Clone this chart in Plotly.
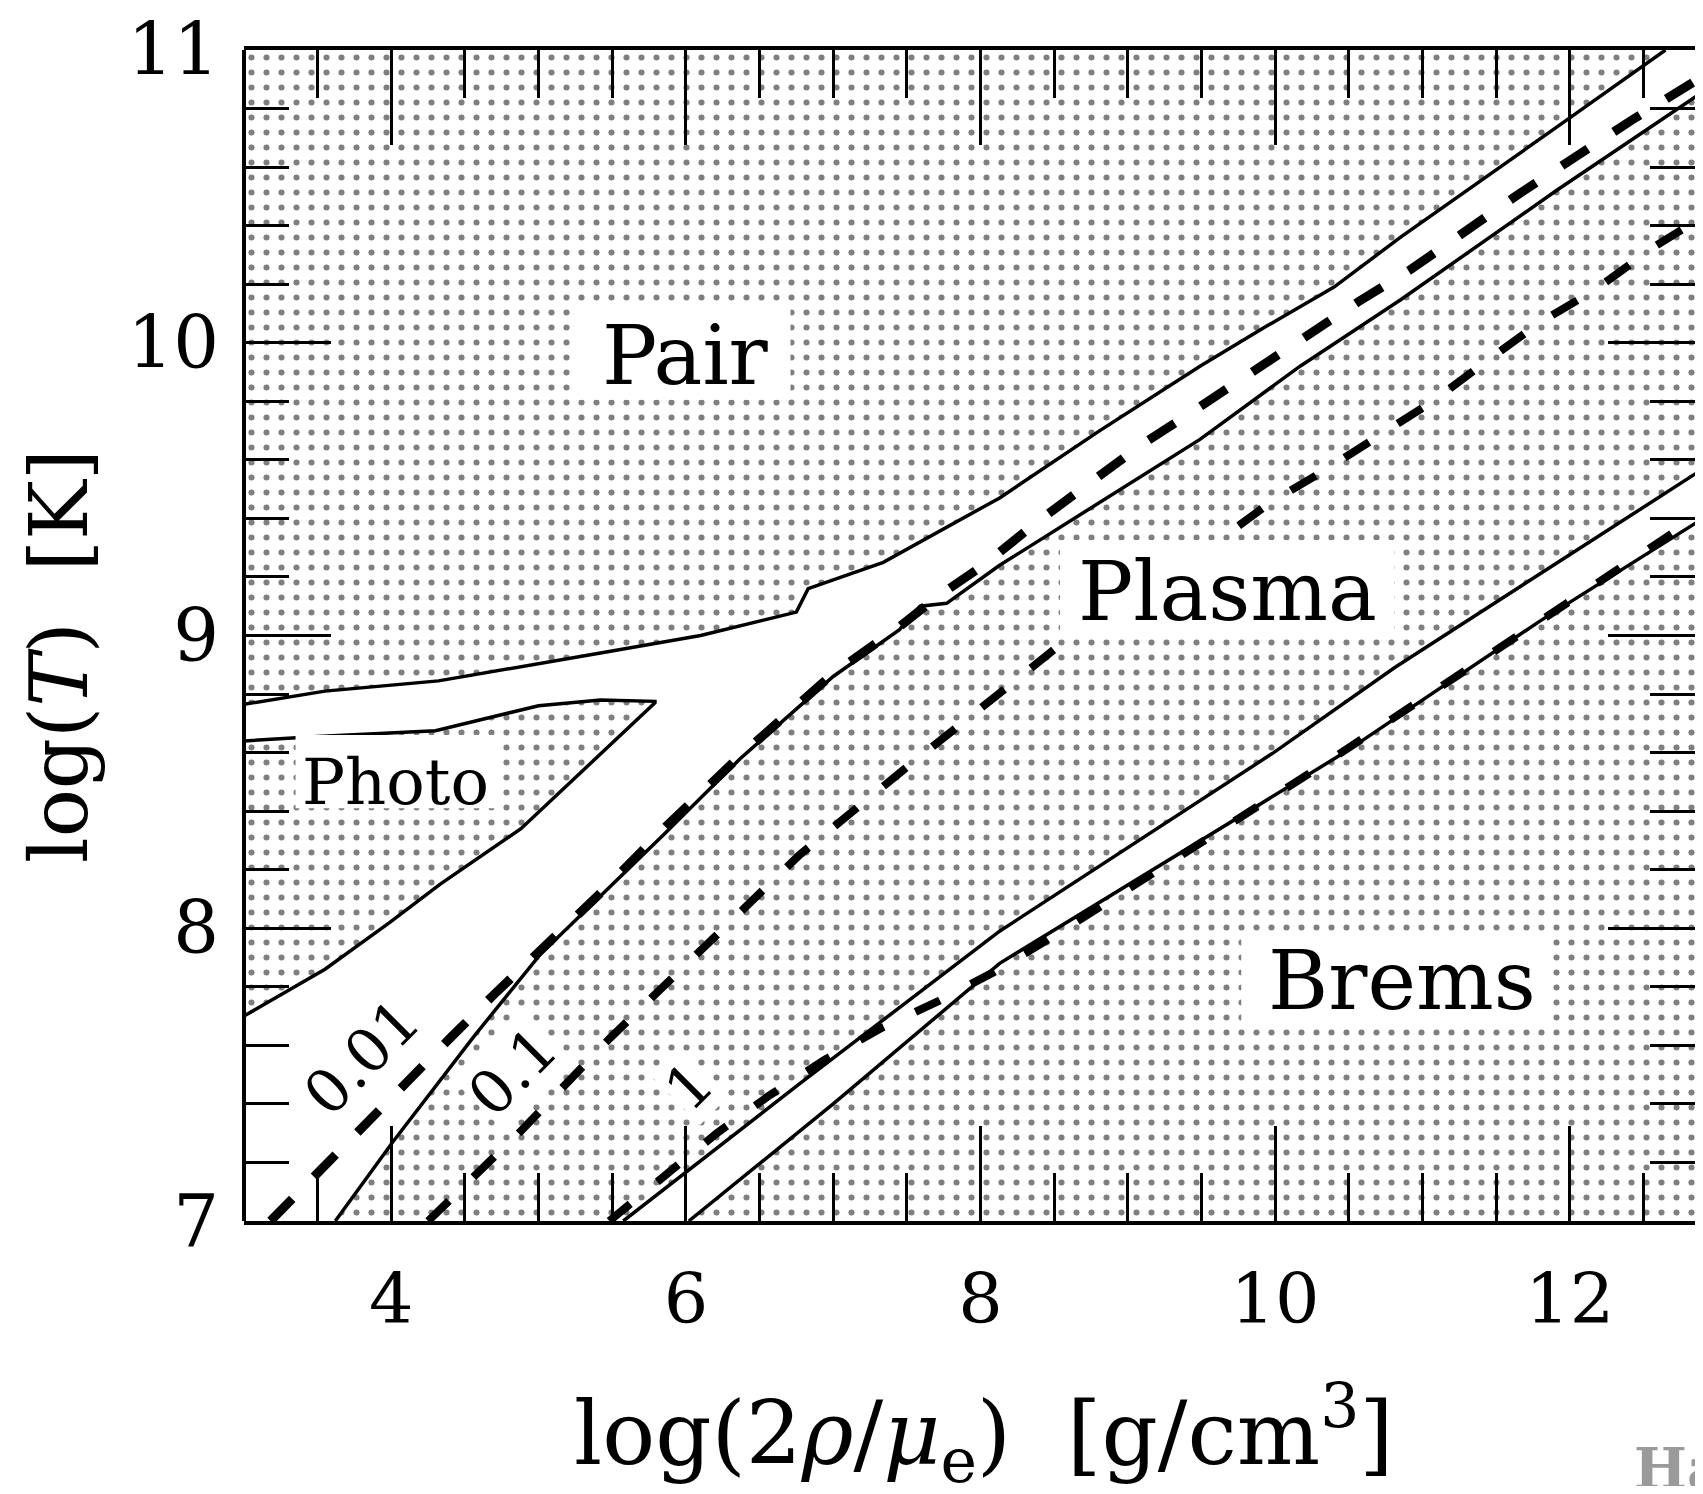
import plotly.graph_objects as go

# ---------------- data ----------------
X_MIN, X_EDGE = 3.0, 13.0
Y_MIN, Y_MAX = 7.0, 11.0

# lower boundary of the "Pair" region
pair_x = [3.0, 3.55, 4.32, 5.21, 5.42, 6.10, 6.75, 6.83, 7.34, 8.13, 8.81, 9.49, 9.94, 10.40, 10.85, 11.95, 12.65]
pair_y = [8.765, 8.81, 8.845, 8.92, 8.94, 9.00, 9.08, 9.16, 9.25, 9.47, 9.70, 9.92, 10.056, 10.19, 10.36, 10.75, 11.0]

# "Photo" region: upper edge (left -> tip) and lower edge (tip -> left)
photo_top_x = [3.0, 3.5, 4.3, 4.75, 5.0, 5.42, 5.79]
photo_top_y = [8.64, 8.655, 8.675, 8.73, 8.76, 8.78, 8.775]
photo_bot_x = [5.79, 5.43, 4.88, 4.33, 3.99, 3.55, 3.0]
photo_bot_y = [8.77, 8.60, 8.34, 8.15, 8.02, 7.86, 7.70]

# upper-left boundary of the "Plasma" region
plasma_x = [3.62, 4.01, 4.56, 5.01, 5.42, 5.85, 6.37, 7.0, 7.45, 7.59, 7.77, 8.13, 8.27, 8.81, 9.49, 10.17, 10.85, 11.91, 12.65, 13.0]
plasma_y = [7.0, 7.27, 7.63, 7.91, 8.11, 8.32, 8.58, 8.86, 9.02, 9.10, 9.11, 9.24, 9.284, 9.454, 9.67, 9.92, 10.146, 10.52, 10.77, 10.89]

# white band between "Plasma" and "Brems"
band_top_x = [5.575, 6.775, 8.13, 9.99, 10.81, 11.8, 13.0]
band_top_y = [7.0, 7.47, 7.99, 8.60, 8.89, 9.21, 9.60]
band_bot_x = [6.02, 7.0, 8.13, 10.47, 11.8, 13.0]
band_bot_y = [7.0, 7.40, 7.88, 8.60, 9.05, 9.43]

# dashed contours
c001_x = [3.18, 3.45, 3.77, 4.07, 4.39, 4.70, 5.02, 5.42, 5.87, 6.37, 7.0, 7.45, 7.70, 8.02, 8.38, 8.72, 9.08, 9.455, 9.83, 10.19, 10.565, 10.92, 11.66, 12.42, 13.0]
c001_y = [7.0, 7.14, 7.30, 7.46, 7.62, 7.775, 7.93, 8.12, 8.35, 8.59, 8.87, 9.03, 9.13, 9.24, 9.386, 9.51, 9.647, 9.77, 9.897, 10.016, 10.14, 10.25, 10.51, 10.76, 10.94]
c01_x = [4.25, 4.885, 5.485, 6.13, 6.77, 7.45, 8.11, 8.52, 9.63, 9.97, 10.35, 10.72, 11.07, 11.43, 11.8, 12.17, 12.58, 13.0]
c01_y = [7.0, 7.31, 7.625, 7.94, 8.25, 8.53, 8.80, 8.96, 9.33, 9.455, 9.568, 9.687, 9.80, 9.935, 10.07, 10.18, 10.33, 10.46]
c1_x = [5.48, 5.86, 6.21, 6.57, 6.94, 7.33, 7.71, 8.09, 8.52, 9.24, 9.99, 10.36, 11.8, 13.0]
c1_y = [7.0, 7.16, 7.30, 7.43, 7.55, 7.66, 7.75, 7.85, 7.98, 8.21, 8.45, 8.57, 9.05, 9.45]

# region labels: text, x, y, white box (x0, x1, y0, y1)
region_names = ["Pair", "Plasma", "Brems", "Photo"]
region_x = [6.0, 9.68, 10.86, 4.03]
region_y = [9.955, 9.15, 7.82, 8.50]
region_box = [(5.24, 6.71, 9.805, 10.115), (8.54, 10.81, 8.99, 9.325),
              (9.77, 11.88, 7.667, 7.98), (3.35, 4.71, 8.41, 8.66)]
region_size = [82, 82, 82, 64]

# contour labels
contour_names = ["0.01", "0.1", "1"]
contour_lx = [3.80, 4.82, 6.02]
contour_ly = [7.56, 7.51, 7.46]

x_tick_vals = [4, 6, 8, 10, 12]
y_tick_vals = [7, 8, 9, 10, 11]

# ---------------- figure ----------------
# The page body keeps its default 8 px margin, so the figure is drawn 8 px
# in from the window corner; it is sized to fit the window without scrollbars.
OFF = 8
FONT = "DejaVu Serif"
W, H = 1703 - 2 * OFF, 1494 - 2 * OFF
PLOT_L, PLOT_T, PLOT_B = 244, 46, 1221          # window pixels of the frame
UNIT_X = 147.3                                  # window pixels per x unit
ML = PLOT_L - OFF
MT = PLOT_T - OFF
MB = H - (PLOT_B - OFF)
PW = W - ML
PH = H - MT - MB
X_MAX = X_MIN + PW / UNIT_X


def paper_x(px):
    return (px - OFF - ML) / PW


def paper_y(py):
    return (MT + PH - (py - OFF)) / PH


stipple = dict(shape=".", fgcolor="black", bgcolor="white", size=15, solidity=0.13)

fig = go.Figure()


def region(xs, ys):
    fig.add_trace(go.Scatter(x=xs, y=ys, mode="lines", fill="toself",
                             fillcolor="white", fillpattern=stipple,
                             line=dict(width=0), hoverinfo="skip"))


region(pair_x + [X_MIN], pair_y + [Y_MAX])
region(photo_top_x + photo_bot_x, photo_top_y + photo_bot_y)
region(plasma_x + band_top_x[::-1], plasma_y + band_top_y[::-1])
region(band_bot_x + [X_EDGE], band_bot_y + [Y_MIN])


def solid(xs, ys):
    fig.add_trace(go.Scatter(x=xs, y=ys, mode="lines",
                             line=dict(color="black", width=3.5), hoverinfo="skip"))


solid(pair_x, pair_y)
solid(photo_top_x + photo_bot_x, photo_top_y + photo_bot_y)
solid(plasma_x, plasma_y)
solid(band_top_x, band_top_y)
solid(band_bot_x, band_bot_y)


def dashed(xs, ys, w, dash):
    fig.add_trace(go.Scatter(x=xs, y=ys, mode="lines",
                             line=dict(color="black", width=w, dash=dash), hoverinfo="skip"))


dashed(c001_x, c001_y, 9, "31px,31px")
dashed(c01_x, c01_y, 8, "29px,34px")
dashed(c1_x, c1_y, 8, "27px,35px")

shapes = []
for (x0, x1, y0, y1) in region_box:
    shapes.append(dict(type="rect", xref="x", yref="y", x0=x0, x1=x1, y0=y0, y1=y1,
                       fillcolor="white", line=dict(width=0), layer="above"))
# left frame line (the right one lies beyond the page edge in the reference)
shapes.append(dict(type="line", xref="paper", yref="paper", x0=0, x1=0, y0=0, y1=1,
                   line=dict(color="black", width=4), layer="above"))

annotations = []
for name, x, y, s in zip(region_names, region_x, region_y, region_size):
    annotations.append(dict(text=name, x=x, y=y, xref="x", yref="y", showarrow=False,
                            xanchor="center", yanchor="middle",
                            font=dict(family=FONT, size=s, color="black")))
for name, x, y in zip(contour_names, contour_lx, contour_ly):
    annotations.append(dict(text=name, x=x, y=y, xref="x", yref="y", showarrow=False,
                            textangle=-45, xanchor="center", yanchor="middle",
                            bgcolor="white", borderpad=0,
                            font=dict(family=FONT, size=60, color="black")))

# axis titles
annotations.append(dict(text="log(2<i>ρ</i>/<i>μ</i><sub>e</sub>)  [g/cm<sup>3</sup>]",
                        xref="paper", yref="paper", x=paper_x(984), y=paper_y(1434),
                        xanchor="center", yanchor="middle", showarrow=False,
                        font=dict(family=FONT, size=88, color="black")))
annotations.append(dict(text="log(<i>T</i>)  [K]", textangle=-90,
                        xref="paper", yref="paper", x=paper_x(60), y=paper_y(654),
                        xanchor="center", yanchor="middle", showarrow=False,
                        font=dict(family=FONT, size=80, color="black")))
# faint watermark cut by the page corner
annotations.append(dict(text="<b>Ha</b>", xref="paper", yref="paper",
                        x=paper_x(1632), y=paper_y(1434),
                        xanchor="left", yanchor="top", showarrow=False,
                        font=dict(family=FONT, size=56, color="#9a9a9a")))

axis_common = dict(showgrid=False, zeroline=False, linecolor="black",
                   linewidth=4, mirror="allticks", ticks="inside", tickcolor="black",
                   tickwidth=3, ticklabeloverflow="allow")

fig.update_layout(
    width=W, height=H,
    margin=dict(l=ML, r=0, t=MT, b=MB, pad=0),
    paper_bgcolor="white", plot_bgcolor="white",
    showlegend=False,
    xaxis=dict(range=[X_MIN, X_MAX], tickvals=x_tick_vals, ticklen=95, showline=True,
               minor=dict(dtick=0.5, tick0=0, ticklen=48, ticks="inside",
                          tickcolor="black", tickwidth=3),
               tickfont=dict(family=FONT, size=70, color="black"),
               ticklabelstandoff=14, **axis_common),
    yaxis=dict(range=[Y_MIN, Y_MAX], tickvals=y_tick_vals, ticklen=87, showline=False,
               minor=dict(dtick=0.2, tick0=0, ticklen=45, ticks="inside",
                          tickcolor="black", tickwidth=3),
               tickfont=dict(family=FONT, size=72, color="black"),
               ticklabelstandoff=24, **axis_common),
    shapes=shapes,
    annotations=annotations,
)

fig.write_html("out.html")
